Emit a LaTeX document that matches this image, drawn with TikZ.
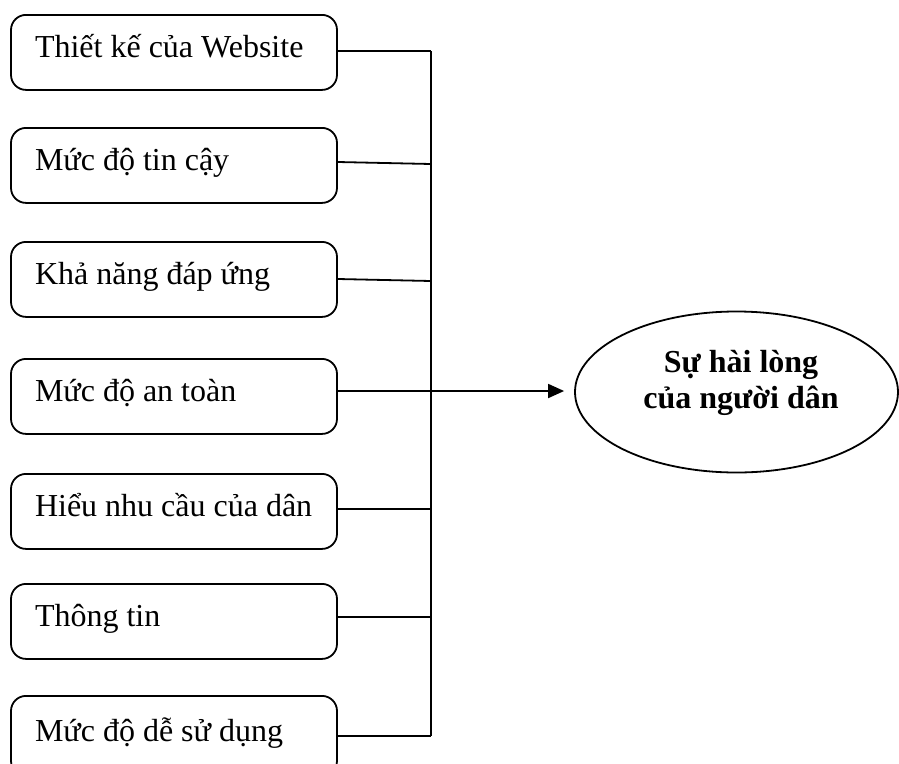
\documentclass[tikz,border=0pt]{standalone}
\usepackage{fontspec}
\setmainfont{Liberation Serif}
\usetikzlibrary{shapes.geometric,arrows.meta,calc}

% single-line label, left-aligned inside a fixed-width box
\newcommand{\boxlabel}[1]{\makebox[278pt][l]{#1}}

\begin{document}
\begin{tikzpicture}[x=1pt,y=-1pt,
  factor/.style={draw=black, line width=1.8pt, rounded corners=15pt,
    anchor=north, minimum width=326pt, minimum height=75pt,
    inner xsep=24pt, inner ysep=0pt,
    text height=22pt, text depth=11pt,
    font=\fontsize{32}{36}\selectfont},
  link/.style={line width=1.8pt},
  result/.style={draw=black, line width=1.8pt, ellipse,
    minimum width=323pt, minimum height=161pt, inner sep=0pt},
  resulttext/.style={anchor=base, inner sep=0pt,
    font=\fontsize{32}{36}\selectfont\bfseries}]

\useasboundingbox (0,0) rectangle (899,763);

% factor boxes
\node[factor] (b1) at (174,14)  {\boxlabel{Thiết kế của Website}};
\node[factor] (b2) at (174,127) {\boxlabel{Mức độ tin cậy}};
\node[factor] (b3) at (174,241) {\boxlabel{Khả năng đáp ứng}};
\node[factor] (b4) at (174,358) {\boxlabel{Mức độ an toàn}};
\node[factor] (b5) at (174,473) {\boxlabel{Hiểu nhu cầu của dân}};
\node[factor] (b6) at (174,583) {\boxlabel{Thông tin}};
\node[factor, minimum height=80pt, text height=11pt, text depth=0pt] (b7) at (174,695) {\boxlabel{Mức độ dễ sử dụng}};

% junctions on the collecting bus
\coordinate (j1) at (431,51);
\coordinate (j2) at (431,164);
\coordinate (j3) at (431,281);
\coordinate (j4) at (431,391);
\coordinate (j5) at (431,509);
\coordinate (j6) at (431,617);
\coordinate (j7) at (431,736);

% outcome ellipse
\node[result] (e) at (736.5,392) {};
\node[resulttext] (e1) at (741,372) {Sự hài lòng};
\node[resulttext] (e2) at (741,408) {của người dân};

% connectors
\draw[link] (j1) -- (j7);
\draw[link] (b1.east |- j1) -- (j1);
\draw[link] ($(b2.east |- j2)+(0,-2)$) -- (j2);
\draw[link] ($(b3.east |- j3)+(0,-2)$) -- (j3);
\draw[link] (b5.east |- j5) -- (j5);
\draw[link] (b6.east |- j6) -- (j6);
\draw[link] (b7.east |- j7) -- (j7);
\draw[link, -{Triangle[length=16pt,width=14pt]}, shorten >=10pt]
  (b4.east |- j4) -- (e.west |- j4);
\end{tikzpicture}
\end{document}
